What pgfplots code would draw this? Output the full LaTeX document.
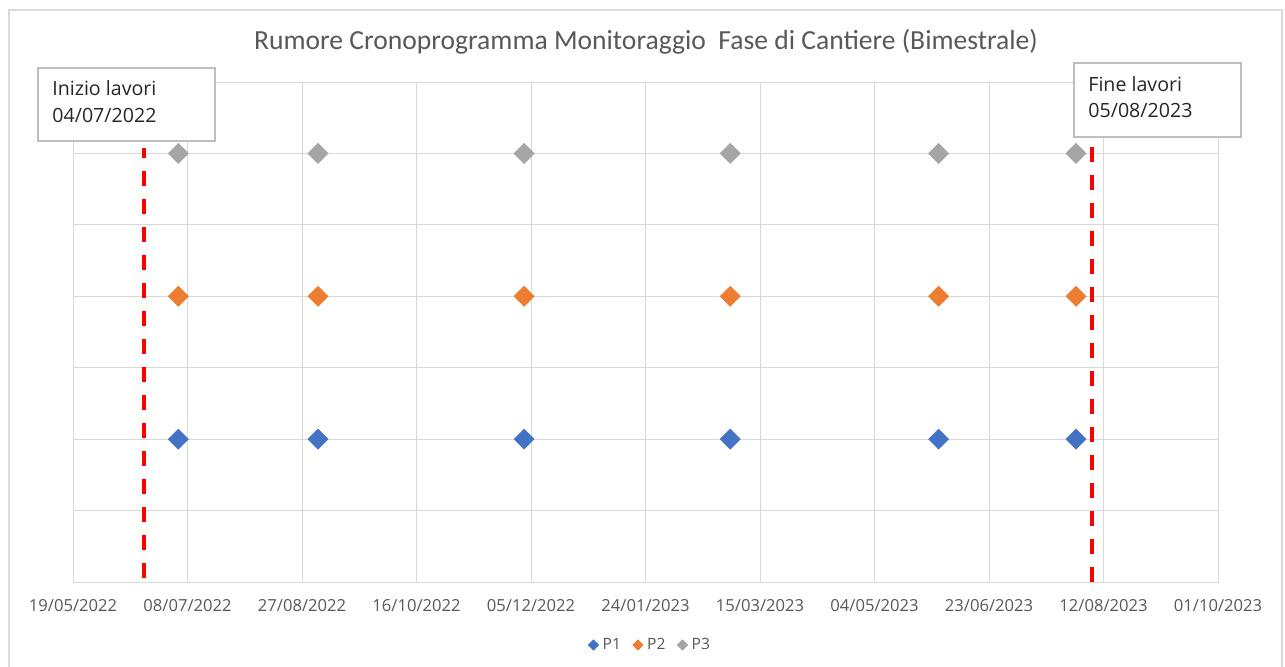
\documentclass[border=0pt]{standalone}
\usepackage{fontspec}
\setmainfont{Open Sans}
\newfontfamily\titlefont{Carlito}
\usepackage{pgfplots}
\pgfplotsset{compat=1.18}
\definecolor{p1}{HTML}{4472C4}
\definecolor{p2}{HTML}{ED7D31}
\definecolor{p3}{HTML}{A5A5A5}
\definecolor{gridgray}{HTML}{D9D9D9}
\definecolor{axisgray}{HTML}{BFBFBF}
\definecolor{textgray}{HTML}{595959}
\definecolor{textdark}{HTML}{262626}
\definecolor{framegray}{HTML}{D9D9D9}
\definecolor{boxgray}{HTML}{BFBFBF}
\begin{document}
\begin{tikzpicture}
\begin{scope}[x=0.5pt,y=-0.5pt,shift={(0pt,333pt)}]
\useasboundingbox (0,0) rectangle (1285,666);
\clip (0,0) rectangle (1285,666);
\fill[white] (0,0) rectangle (1285,666);
\draw[framegray, line width=0.6pt] (9,10) rectangle (1282,700);
\end{scope}
\begin{axis}[
  scale only axis, width=572.5pt, height=250pt,
  at={(36.5pt,42pt)}, anchor=south west,
  xmin=0, xmax=500, ymin=0, ymax=3.5,
  xtick={0,50,...,500},
  xticklabels={19/05/2022,08/07/2022,27/08/2022,16/10/2022,05/12/2022,24/01/2023,15/03/2023,04/05/2023,23/06/2023,12/08/2023,01/10/2023},
  ytick={0,0.5,...,3.5}, yticklabels={},
  grid=major, major grid style={draw=gridgray, line width=0.5pt},
  axis line style={draw=gridgray},
  major tick length=0pt,
  x axis line style={draw=axisgray},
  tick label style={font=\fontsize{8.3}{10}\selectfont, text=textgray},
  xticklabel style={yshift=-5pt},
  clip=false,
  legend style={draw=none, fill=none, at={(0.505,-0.126)}, anchor=center,
    legend columns=-1, font=\fontsize{7.8}{10}\selectfont, text=textgray,
    /tikz/every even column/.append style={column sep=4pt}},
  legend image code/.code={\draw[#1] plot coordinates {(0pt,0pt)};},
]
\addlegendimage{only marks, mark=square*, mark size=1.8pt, mark options={rotate=45, fill=p1, draw=p1}}
\addlegendimage{only marks, mark=square*, mark size=1.8pt, mark options={rotate=45, fill=p2, draw=p2}}
\addlegendimage{only marks, mark=square*, mark size=1.8pt, mark options={rotate=45, fill=p3, draw=p3}}
\legend{P1,P2,P3}
\addplot[forget plot, red, line width=1.9pt, dash pattern=on 7.5pt off 6.5pt] coordinates {(31,0.03) (31,3.04)};
\addplot[forget plot, red, line width=1.9pt, dash pattern=on 7.5pt off 6.5pt] coordinates {(445,0) (445,3.2)};
\addplot[forget plot, only marks, mark=square*, mark size=3.5pt, mark options={rotate=45, fill=p1, draw=p1}] coordinates {(46,1) (107,1) (197,1) (287,1) (378,1) (438,1)};
\addplot[forget plot, only marks, mark=square*, mark size=3.5pt, mark options={rotate=45, fill=p2, draw=p2}] coordinates {(46,2) (107,2) (197,2) (287,2) (378,2) (438,2)};
\addplot[forget plot, only marks, mark=square*, mark size=3.5pt, mark options={rotate=45, fill=p3, draw=p3}] coordinates {(46,3) (107,3) (197,3) (287,3) (378,3) (438,3)};
\end{axis}
\begin{scope}[x=0.5pt,y=-0.5pt,shift={(0pt,333pt)}]
\node[text=textgray, font=\titlefont\fontsize{13.8}{16}\selectfont] at (646,42) {Rumore Cronoprogramma Monitoraggio\ \ Fase di Cantiere (Bimestrale)};
\draw[boxgray, fill=white, line width=0.6pt] (38,68) rectangle (215,141);
\node[anchor=west, text=textdark, font=\fontsize{9.8}{12}\selectfont, inner sep=0pt] at (52,88) {Inizio lavori};
\node[anchor=west, text=textdark, font=\fontsize{9.8}{12}\selectfont, inner sep=0pt] at (52,115) {04/07/2022};
\draw[boxgray, fill=white, line width=0.6pt] (1074,63) rectangle (1241,137);
\node[anchor=west, text=textdark, font=\fontsize{9.8}{12}\selectfont, inner sep=0pt] at (1088,84) {Fine lavori};
\node[anchor=west, text=textdark, font=\fontsize{9.8}{12}\selectfont, inner sep=0pt] at (1088,110) {05/08/2023};
\end{scope}
\end{tikzpicture}
\end{document}
